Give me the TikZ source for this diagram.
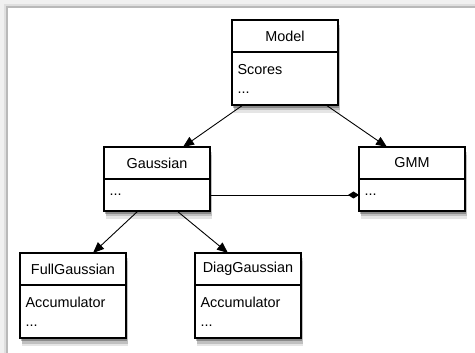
\documentclass[tikz,border=0pt]{standalone}
\usepackage{fontspec}
\setsansfont{Liberation Sans}
\usepackage{tikz}
\usetikzlibrary{positioning,shadows,arrows.meta}

\tikzset{
    softshadow/.style={
        drop shadow={shadow xshift=2pt,shadow yshift=-8pt,opacity=.10,fill=black},
        drop shadow={shadow xshift=1.5pt,shadow yshift=-5.5pt,opacity=.16,fill=black},
        drop shadow={shadow xshift=1pt,shadow yshift=-3pt,opacity=.28,fill=black}},
    classhead/.style={draw,line width=1.1pt,fill=white,softshadow,outer sep=0pt,
        inner sep=0pt,minimum width=106pt,minimum height=32pt,anchor=north west,
        font=\sffamily\fontsize{14.4}{19}\selectfont},
    classbody/.style={draw,line width=1.1pt,fill=white,softshadow,outer sep=0pt,
        inner xsep=5.5pt,inner ysep=0pt,text width=95pt,align=left,minimum height=#1,
        font=\sffamily\fontsize{14.4}{19}\selectfont},
    classbody/.default=53pt,
    inherit/.style={line width=0.9pt,-{Triangle[length=11pt,width=9pt]}},
    compose/.style={line width=0.9pt,-{Diamond[length=11pt,width=7pt]}}
}

\begin{document}
\begin{tikzpicture}[x=1pt,y=-1pt]
        \useasboundingbox (0,0) rectangle (475,353);
        \draw[gray!12,line width=7pt] (3.5,353) -- (3.5,3.5) -- (475,3.5);
        \draw[gray!25,line width=3pt] (5.5,353) -- (5.5,5.5) -- (475,5.5);
        \draw[gray!55,line width=1.5pt] (7,353) -- (7,7) -- (475,7);

        \node[classhead] (model) at (232,20) {Model};
        \node[classbody, below=0pt of model] (modelbody) {Scores\\...};

        \node[classhead] (gaussian) at (104,147) {Gaussian};
        \node[classbody=32pt, below=0pt of gaussian] (gaussianbody) {...};

        \node[classhead] (gmm) at (359,147) {GMM};
        \node[classbody=32pt, below=0pt of gmm] (gmmbody) {...};

        \node[classhead] (fullgauss) at (20,253) {FullGaussian};
        \node[classbody, below=0pt of fullgauss] (fullgaussbody) {Accumulator\\...};

        \node[classhead] (diaggauss) at (195,253) {DiagGaussian};
        \node[classbody, below=0pt of diaggauss] (diaggaussbody) {Accumulator\\...};

        \draw[inherit] ([xshift=-42pt]modelbody.south) -- ([xshift=26pt]gaussian.north);
        \draw[inherit] ([xshift=41pt]modelbody.south) -- ([xshift=-25pt]gmm.north);
        \draw[inherit] ([xshift=-19pt]gaussianbody.south) -- ([xshift=20pt]fullgauss.north);
        \draw[inherit] ([xshift=20pt]gaussianbody.south) -- ([xshift=-20pt]diaggauss.north);
        \draw[compose] (gaussianbody.east) -- (gmmbody.west);
    \end{tikzpicture}
\end{document}
